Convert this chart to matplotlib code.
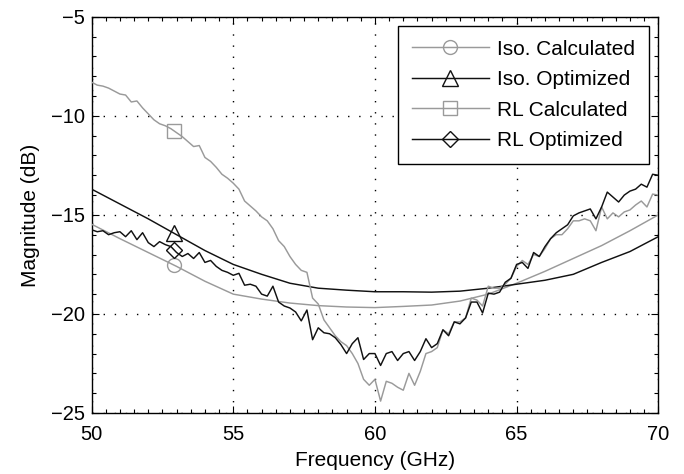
import numpy as np
import matplotlib
matplotlib.use("Agg")
import matplotlib.pyplot as plt

plt.rcParams['font.family'] = ['Liberation Sans', 'DejaVu Sans']

# ---- data ----
freq_smooth = [50, 51, 52, 53, 54, 55, 56, 57, 58, 59, 60, 61, 62, 63, 64, 65, 66, 67, 68, 69, 70]
iso_calc = [-15.47, -16.2, -16.9, -17.6, -18.35, -19.0, -19.25, -19.45, -19.58, -19.65, -19.68,
            -19.62, -19.55, -19.35, -19.0, -18.45, -17.85, -17.2, -16.55, -15.8, -15.0]
iso_opt = [-13.7, -14.45, -15.2, -16.0, -16.8, -17.5, -18.0, -18.45, -18.7, -18.8, -18.88,
           -18.88, -18.9, -18.85, -18.7, -18.5, -18.3, -18.0, -17.4, -16.85, -16.1]

freq_noisy = [50.0, 50.2, 50.4, 50.6, 50.8, 51.0, 51.2, 51.4, 51.6, 51.8,
              52.0, 52.2, 52.4, 52.6, 52.8, 53.0, 53.2, 53.4, 53.6, 53.8,
              54.0, 54.2, 54.4, 54.6, 54.8, 55.0, 55.2, 55.4, 55.6, 55.8,
              56.0, 56.2, 56.4, 56.6, 56.8, 57.0, 57.2, 57.4, 57.6, 57.8,
              58.0, 58.2, 58.4, 58.6, 58.8, 59.0, 59.2, 59.4, 59.6, 59.8,
              60.0, 60.2, 60.4, 60.6, 60.8, 61.0, 61.2, 61.4, 61.6, 61.8,
              62.0, 62.2, 62.4, 62.6, 62.8, 63.0, 63.2, 63.4, 63.6, 63.8,
              64.0, 64.2, 64.4, 64.6, 64.8, 65.0, 65.2, 65.4, 65.6, 65.8,
              66.0, 66.2, 66.4, 66.6, 66.8, 67.0, 67.2, 67.4, 67.6, 67.8,
              68.0, 68.2, 68.4, 68.6, 68.8, 69.0, 69.2, 69.4, 69.6, 69.8, 70.0]
rl_calc = [-8.3, -8.45, -8.5, -8.6, -8.75, -8.9, -8.95, -9.3, -9.25, -9.6,
           -9.9, -10.2, -10.4, -10.5, -10.65, -10.85, -11.05, -11.3, -11.55, -11.5,
           -12.1, -12.3, -12.6, -12.95, -13.15, -13.4, -13.7, -14.3, -14.55, -14.8,
           -15.1, -15.3, -15.7, -16.3, -16.6, -17.1, -17.5, -17.8, -17.9, -19.2,
           -19.5, -20.3, -20.7, -21.1, -21.4, -21.6, -22.0, -22.5, -23.3, -23.6,
           -23.3, -24.4, -23.4, -23.5, -23.7, -23.85, -23.0, -23.6, -22.9, -22.0,
           -21.9, -21.7, -20.8, -21.0, -20.4, -20.4, -20.2, -19.2, -19.3, -19.6,
           -18.6, -18.7, -18.7, -18.5, -18.2, -17.6, -17.3, -17.5, -17.0, -17.1,
           -16.7, -16.2, -16.0, -16.0, -15.7, -15.3, -15.3, -15.2, -15.3, -15.8,
           -14.6, -15.2, -14.9, -15.1, -14.85, -14.75, -14.5, -14.3, -14.6, -13.95, -14.0]
rl_opt = [-15.75, -15.85, -15.8, -16.0, -15.9, -15.85, -16.1, -15.8, -16.25, -15.9,
          -16.4, -16.6, -16.35, -16.5, -16.6, -16.9, -17.1, -16.95, -17.2, -16.9,
          -17.4, -17.3, -17.6, -17.8, -17.9, -18.05, -17.95, -18.55, -18.5, -18.6,
          -19.0, -19.1, -18.6, -19.4, -19.6, -19.7, -19.9, -20.35, -19.8, -21.3,
          -20.7, -20.95, -21.0, -21.2, -21.55, -22.0, -21.5, -21.2, -22.3, -22.0,
          -22.0, -22.6, -22.0, -21.9, -22.35, -22.0, -21.9, -22.35, -21.9, -21.25,
          -21.7, -21.5, -20.8, -21.1, -20.4, -20.5, -20.2, -19.4, -19.4, -19.95,
          -18.95, -19.0, -18.9, -18.4, -18.2, -17.5, -17.4, -17.7, -16.9, -17.1,
          -16.6, -16.2, -15.9, -15.7, -15.5, -15.05, -14.9, -14.8, -14.7, -15.2,
          -14.6, -13.85, -14.1, -14.35, -14.0, -13.8, -13.7, -13.45, -13.6, -12.95, -13.0]

marker_freq = 52.9
labels = ['Iso. Calculated', 'Iso. Optimized', 'RL Calculated', 'RL Optimized']
x_ticks = [50, 55, 60, 65, 70]
y_ticks = [-25, -20, -15, -10, -5]

gray = '#9a9a9a'
black = '#111111'

fig = plt.figure(figsize=(6.84, 4.74), dpi=100)
ax = fig.add_axes([0.1339, 0.1287, 0.8285, 0.8359])

series = [
    (freq_smooth, iso_calc, gray, 'o', 10),
    (freq_smooth, iso_opt, black, '^', 11),
    (freq_noisy, rl_calc, gray, 's', 9.5),
    (freq_noisy, rl_opt, black, 'D', 8.5),
]
lw = 1.05
for (fx, fy, col, mk, ms), lab in zip(series, labels):
    ax.plot(fx, fy, color=col, lw=lw, zorder=3)
    my = np.interp(marker_freq, fx, fy)
    ax.plot([marker_freq], [my], linestyle='none', marker=mk, ms=ms,
            mfc='none', mec=col, mew=1.0, zorder=4)
    # legend proxy
    ax.plot([], [], color=col, lw=lw, marker=mk, ms=ms, mfc='none', mec=col,
            mew=1.0, label=lab)

ax.set_xlim(50, 70)
ax.set_ylim(-25, -5)
ax.set_xticks(x_ticks)
ax.set_yticks(y_ticks)
ax.set_xticks(np.arange(50, 70.01, 0.5), minor=True)
ax.set_yticks(np.arange(-25, -4.99, 1), minor=True)
ax.tick_params(which='both', direction='in', top=True, right=True, labelsize=14.5,
               colors='black', width=0.8)
ax.tick_params(which='major', length=5)
ax.tick_params(which='minor', length=3)
ax.tick_params(axis='x', which='major', pad=9)
ax.tick_params(axis='y', which='major', pad=5)
ax.grid(True, which='major', color='black', linestyle=(0, (1, 7)), linewidth=1.0)
for sp in ax.spines.values():
    sp.set_linewidth(1.0)
    sp.set_color('black')

ax.set_xlabel('Frequency (GHz)', fontsize=15, labelpad=5)
ax.set_ylabel('Magnitude (dB)', fontsize=15, labelpad=8)

leg = ax.legend(loc='upper right', fontsize=15, numpoints=1, handlelength=3.7,
                handletextpad=0.4, labelspacing=0.55, borderpad=0.65,
                fancybox=False, framealpha=1, edgecolor='black',
                borderaxespad=0.45)
leg.get_frame().set_linewidth(1.0)

fig.savefig('out.png', dpi=100)
